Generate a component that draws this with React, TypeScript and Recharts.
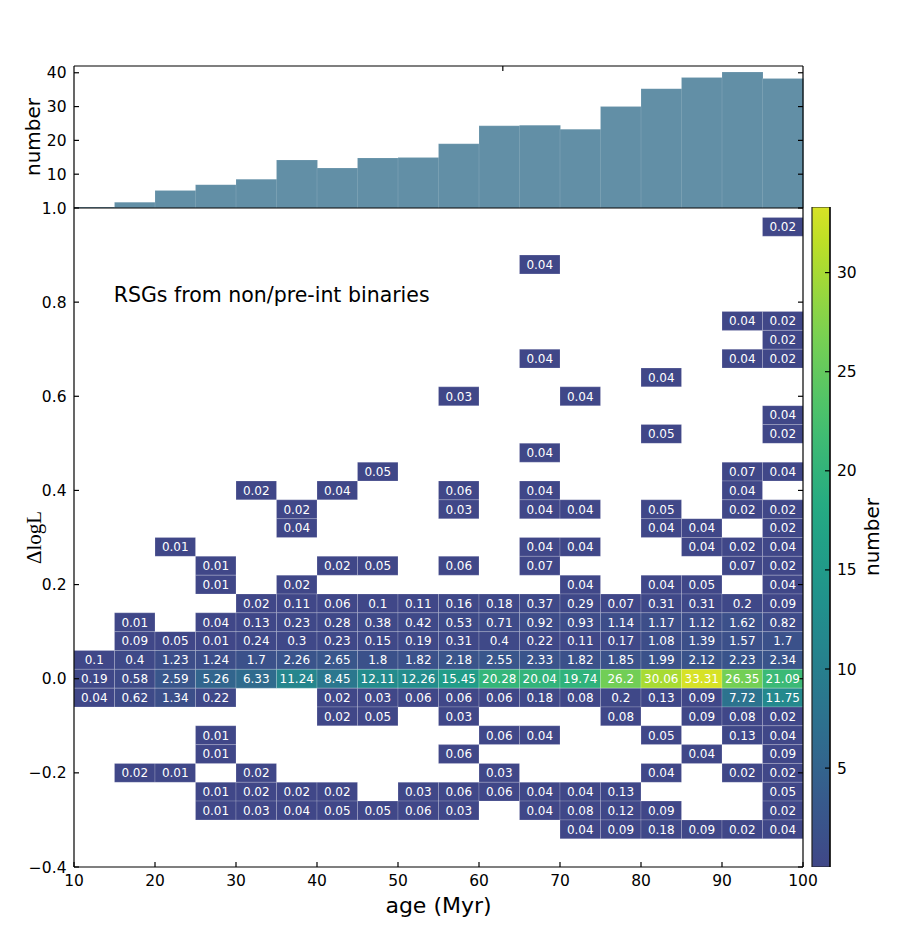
import React from "react";
import {
  BarChart,
  Bar,
  ComposedChart,
  Scatter,
  XAxis,
  YAxis,
  ReferenceArea,
  ReferenceDot,
  Label,
} from "recharts";

const _ = null;

// age bins (Myr), each 5 Myr wide
const ageBinStarts = [10, 15, 20, 25, 30, 35, 40, 45, 50, 55, 60, 65, 70, 75, 80, 85, 90, 95];
const binWidth = 5;

// top panel: number of RSGs per age bin
const histCounts = [0.3, 1.7, 5.2, 6.9, 8.5, 14.2, 11.8, 14.8, 14.9, 19.0, 24.3, 24.5, 23.3, 30.0, 35.3, 38.6, 40.2, 38.3];

// ΔlogL bin centres (bin height 0.04), top row first
const dlogLCenters = [
  0.96, 0.92, 0.88, 0.84, 0.8, 0.76, 0.72, 0.68, 0.64, 0.6, 0.56, 0.52, 0.48, 0.44, 0.4, 0.36, 0.32,
  0.28, 0.24, 0.2, 0.16, 0.12, 0.08, 0.04, 0, -0.04, -0.08, -0.12, -0.16, -0.2, -0.24, -0.28, -0.32,
];
const rowHalf = 0.02;

// cell numbers, one row per ΔlogL bin, one column per age bin
const cellGrid: (number | null)[][] = [
  [_, _, _, _, _, _, _, _, _, _, _, _, _, _, _, _, _, 0.02],
  [_, _, _, _, _, _, _, _, _, _, _, _, _, _, _, _, _, _],
  [_, _, _, _, _, _, _, _, _, _, _, 0.04, _, _, _, _, _, _],
  [_, _, _, _, _, _, _, _, _, _, _, _, _, _, _, _, _, _],
  [_, _, _, _, _, _, _, _, _, _, _, _, _, _, _, _, _, _],
  [_, _, _, _, _, _, _, _, _, _, _, _, _, _, _, _, 0.04, 0.02],
  [_, _, _, _, _, _, _, _, _, _, _, _, _, _, _, _, _, 0.02],
  [_, _, _, _, _, _, _, _, _, _, _, 0.04, _, _, _, _, 0.04, 0.02],
  [_, _, _, _, _, _, _, _, _, _, _, _, _, _, 0.04, _, _, _],
  [_, _, _, _, _, _, _, _, _, 0.03, _, _, 0.04, _, _, _, _, _],
  [_, _, _, _, _, _, _, _, _, _, _, _, _, _, _, _, _, 0.04],
  [_, _, _, _, _, _, _, _, _, _, _, _, _, _, 0.05, _, _, 0.02],
  [_, _, _, _, _, _, _, _, _, _, _, 0.04, _, _, _, _, _, _],
  [_, _, _, _, _, _, _, 0.05, _, _, _, _, _, _, _, _, 0.07, 0.04],
  [_, _, _, _, 0.02, _, 0.04, _, _, 0.06, _, 0.04, _, _, _, _, 0.04, _],
  [_, _, _, _, _, 0.02, _, _, _, 0.03, _, 0.04, 0.04, _, 0.05, _, 0.02, 0.02],
  [_, _, _, _, _, 0.04, _, _, _, _, _, _, _, _, 0.04, 0.04, _, 0.02],
  [_, _, 0.01, _, _, _, _, _, _, _, _, 0.04, 0.04, _, _, 0.04, 0.02, 0.04],
  [_, _, _, 0.01, _, _, 0.02, 0.05, _, 0.06, _, 0.07, _, _, _, _, 0.07, 0.02],
  [_, _, _, 0.01, _, 0.02, _, _, _, _, _, _, 0.04, _, 0.04, 0.05, _, 0.04],
  [_, _, _, _, 0.02, 0.11, 0.06, 0.1, 0.11, 0.16, 0.18, 0.37, 0.29, 0.07, 0.31, 0.31, 0.2, 0.09],
  [_, 0.01, _, 0.04, 0.13, 0.23, 0.28, 0.38, 0.42, 0.53, 0.71, 0.92, 0.93, 1.14, 1.17, 1.12, 1.62, 0.82],
  [_, 0.09, 0.05, 0.01, 0.24, 0.3, 0.23, 0.15, 0.19, 0.31, 0.4, 0.22, 0.11, 0.17, 1.08, 1.39, 1.57, 1.7],
  [0.1, 0.4, 1.23, 1.24, 1.7, 2.26, 2.65, 1.8, 1.82, 2.18, 2.55, 2.33, 1.82, 1.85, 1.99, 2.12, 2.23, 2.34],
  [0.19, 0.58, 2.59, 5.26, 6.33, 11.24, 8.45, 12.11, 12.26, 15.45, 20.28, 20.04, 19.74, 26.2, 30.06, 33.31, 26.35, 21.09],
  [0.04, 0.62, 1.34, 0.22, _, _, 0.02, 0.03, 0.06, 0.06, 0.06, 0.18, 0.08, 0.2, 0.13, 0.09, 7.72, 11.75],
  [_, _, _, _, _, _, 0.02, 0.05, _, 0.03, _, _, _, 0.08, _, 0.09, 0.08, 0.02],
  [_, _, _, 0.01, _, _, _, _, _, _, 0.06, 0.04, _, _, 0.05, _, 0.13, 0.04],
  [_, _, _, 0.01, _, _, _, _, _, 0.06, _, _, _, _, _, 0.04, _, 0.09],
  [_, 0.02, 0.01, _, 0.02, _, _, _, _, _, 0.03, _, _, _, 0.04, _, 0.02, 0.02],
  [_, _, _, 0.01, 0.02, 0.02, 0.02, _, 0.03, 0.06, 0.06, 0.04, 0.04, 0.13, _, _, _, 0.05],
  [_, _, _, 0.01, 0.03, 0.04, 0.05, 0.05, 0.06, 0.03, _, 0.04, 0.08, 0.12, 0.09, _, _, 0.02],
  [_, _, _, _, _, _, _, _, _, _, _, _, 0.04, 0.09, 0.18, 0.09, 0.02, 0.04],
];

const xTicks = [10, 20, 30, 40, 50, 60, 70, 80, 90, 100];
const yTicks = [-0.4, -0.2, 0, 0.2, 0.4, 0.6, 0.8, 1.0];
const histTicks = [10, 20, 30, 40];
const cbTicks = [5, 10, 15, 20, 25, 30];

const annotation = "RSGs from non/pre-int binaries";

// viridis, sampled every 0.1
const viridisStops = [
  "#440154", "#482475", "#414487", "#355f8d", "#2a788e", "#21918c",
  "#22a884", "#44bf70", "#7ad151", "#bddf26", "#fde725",
];

function hexToRgb(h: string) {
  return [1, 3, 5].map((i) => parseInt(h.slice(i, i + 2), 16));
}

function viridis(t: number) {
  const s = Math.max(0, Math.min(1, t)) * 10;
  const i = Math.min(9, Math.floor(s));
  const f = s - i;
  const a = hexToRgb(viridisStops[i]);
  const b = hexToRgb(viridisStops[i + 1]);
  const c = a.map((v, k) => Math.round(v + (b[k] - v) * f));
  return `rgb(${c[0]},${c[1]},${c[2]})`;
}

const cells = cellGrid.flatMap((row, i) =>
  row.flatMap((v, j) =>
    v === null
      ? []
      : [
          {
            age: ageBinStarts[j] + binWidth / 2,
            dlogL: dlogLCenters[i],
            value: v,
            x1: ageBinStarts[j],
            x2: ageBinStarts[j] + binWidth,
            y1: dlogLCenters[i] - rowHalf,
            y2: dlogLCenters[i] + rowHalf,
          },
        ]
  )
);

const vmin = Math.min(...cells.map((c) => c.value));
const vmax = Math.max(...cells.map((c) => c.value));
const cmapLo = 0.21;
const cmapHi = 0.94;
const colorFor = (v: number) => viridis(cmapLo + (cmapHi - cmapLo) * ((v - vmin) / (vmax - vmin)));

const histData = ageBinStarts.map((a, i) => ({ bin: a, count: histCounts[i] }));
const cbData = [{ name: "cb", span: [vmin, vmax] }];

const fmtY = (v: number) => (v < 0 ? "\u2212" : "") + Math.abs(v).toFixed(1);
const noLabel = () => "";

const tickFont = { fill: "#000", fontSize: 15.5 };
const axisStroke = "#000";

function CellLabel(props: any) {
  const { cx, cy, payload } = props;
  return (
    <text x={cx} y={cy} dy="0.36em" textAnchor="middle" fill="#fff" fontSize={12}>
      {String(payload.value)}
    </text>
  );
}

export default function App() {
  return (
    <div
      style={{
        position: "absolute",
        left: 0,
        top: 0,
        width: 913,
        height: 944,
        background: "#fff",
        fontFamily: "'DejaVu Sans', sans-serif",
      }}
    >
      {/* top histogram */}
      <div style={{ position: "absolute", left: 0, top: 40 }}>
        <BarChart
          width={820}
          height={180}
          data={histData}
          margin={{ top: 21, right: 12, bottom: 7, left: 14 }}
          barCategoryGap={0}
          barGap={0}
        >
          <XAxis xAxisId="cat" dataKey="bin" hide />
          <XAxis
            xAxisId="num"
            type="number"
            domain={[10, 100]}
            allowDataOverflow
            ticks={xTicks}
            interval={0}
            height={5}
            tickSize={-5}
            tickFormatter={noLabel}
            stroke={axisStroke}
            strokeWidth={1.2}
          />
          <XAxis
            xAxisId="top"
            orientation="top"
            type="number"
            domain={[10, 100]}
            allowDataOverflow
            ticks={xTicks}
            interval={0}
            height={5}
            tickSize={-5}
            tickFormatter={noLabel}
            stroke={axisStroke}
            strokeWidth={1.2}
          />
          <YAxis
            type="number"
            domain={[0, 42]}
            allowDataOverflow
            ticks={histTicks}
            interval={0}
            width={60}
            tickSize={-5}
            tickMargin={12.5}
            tick={tickFont}
            stroke={axisStroke}
            strokeWidth={1.2}
          >
            <Label
              value="number"
              angle={-90}
              position="insideLeft"
              offset={19}
              fontSize={20}
              fill="#000"
              style={{ textAnchor: "middle" }}
            />
          </YAxis>
          <YAxis
            yAxisId="right"
            orientation="right"
            type="number"
            domain={[0, 42]}
            allowDataOverflow
            ticks={histTicks}
            interval={0}
            width={5}
            tickSize={-5}
            tickFormatter={noLabel}
            stroke={axisStroke}
            strokeWidth={1.2}
          />
          <Bar
            xAxisId="cat"
            dataKey="count"
            fill="#628fa6"
            stroke="rgba(255,255,255,0.12)"
            strokeWidth={1}
            isAnimationActive={false}
          />
        </BarChart>
      </div>

      {/* main heat map */}
      <div style={{ position: "absolute", left: 0, top: 200 }}>
        <ComposedChart width={820} height={744} margin={{ top: 3, right: 12, bottom: 27, left: 14 }}>
          <XAxis
            dataKey="age"
            type="number"
            domain={[10, 100]}
            allowDataOverflow
            ticks={xTicks}
            interval={0}
            height={50}
            tickSize={-5}
            tickMargin={12.5}
            tick={tickFont}
            stroke={axisStroke}
            strokeWidth={1.2}
          >
            <Label value="age (Myr)" position="insideBottom" offset={4} fontSize={22} fill="#000" />
          </XAxis>
          <XAxis
            xAxisId="top"
            orientation="top"
            type="number"
            domain={[10, 100]}
            allowDataOverflow
            ticks={xTicks}
            interval={0}
            height={5}
            tickSize={-5}
            tickFormatter={noLabel}
            stroke={axisStroke}
            strokeWidth={1.2}
          />
          <YAxis
            dataKey="dlogL"
            type="number"
            domain={[-0.4, 1.0]}
            allowDataOverflow
            ticks={yTicks}
            interval={0}
            width={60}
            tickSize={-5}
            tickMargin={12.5}
            tick={tickFont}
            tickFormatter={fmtY}
            stroke={axisStroke}
            strokeWidth={1.2}
          >
            <Label
              value="ΔlogL"
              angle={-90}
              position="insideLeft"
              offset={20}
              fontSize={21}
              fill="#000"
              style={{ textAnchor: "middle", fontFamily: "'Liberation Serif', 'DejaVu Serif', serif" }}
            />
          </YAxis>
          <YAxis
            yAxisId="right"
            orientation="right"
            type="number"
            domain={[-0.4, 1.0]}
            allowDataOverflow
            ticks={yTicks}
            interval={0}
            width={5}
            tickSize={-5}
            tickFormatter={noLabel}
            stroke={axisStroke}
            strokeWidth={1.2}
          />
          {cells.map((c, i) => (
            <ReferenceArea
              key={i}
              x1={c.x1}
              x2={c.x2}
              y1={c.y1}
              y2={c.y2}
              fill={colorFor(c.value)}
              fillOpacity={1}
              stroke="rgba(255,255,255,0.18)"
              strokeWidth={1}
            />
          ))}
          <Scatter data={cells} shape={CellLabel} isAnimationActive={false} />
          <ReferenceDot
            x={14.9}
            y={0.8165}
            r={0}
            fill="none"
            stroke="none"
            label={{ value: annotation, position: "right", offset: 0, fontSize: 20.5, fill: "#000" }}
          />
        </ComposedChart>
      </div>

      {/* colour bar */}
      <div style={{ position: "absolute", left: 800, top: 200 }}>
        <BarChart
          width={113}
          height={744}
          data={cbData}
          margin={{ top: 7, right: 33, bottom: 77, left: 12 }}
          barCategoryGap={0}
        >
          <defs>
            <linearGradient id="cbGrad" x1="0" y1="1" x2="0" y2="0">
              {Array.from({ length: 21 }, (_, i) => (
                <stop key={i} offset={`${i * 5}%`} stopColor={viridis(cmapLo + (cmapHi - cmapLo) * (i / 20))} />
              ))}
            </linearGradient>
          </defs>
          <XAxis dataKey="name" hide />
          <YAxis
            orientation="right"
            type="number"
            domain={[vmin, vmax]}
            allowDataOverflow
            ticks={cbTicks}
            interval={0}
            width={50}
            tickSize={-5}
            tickMargin={12}
            tick={tickFont}
            stroke={axisStroke}
            strokeWidth={1.2}
          >
            <Label
              value="number"
              angle={-90}
              position="insideLeft"
              offset={42}
              fontSize={20}
              fill="#000"
              style={{ textAnchor: "middle" }}
            />
          </YAxis>
          <Bar dataKey="span" fill="url(#cbGrad)" stroke="#222" strokeWidth={1.2} isAnimationActive={false} />
        </BarChart>
      </div>
    </div>
  );
}
